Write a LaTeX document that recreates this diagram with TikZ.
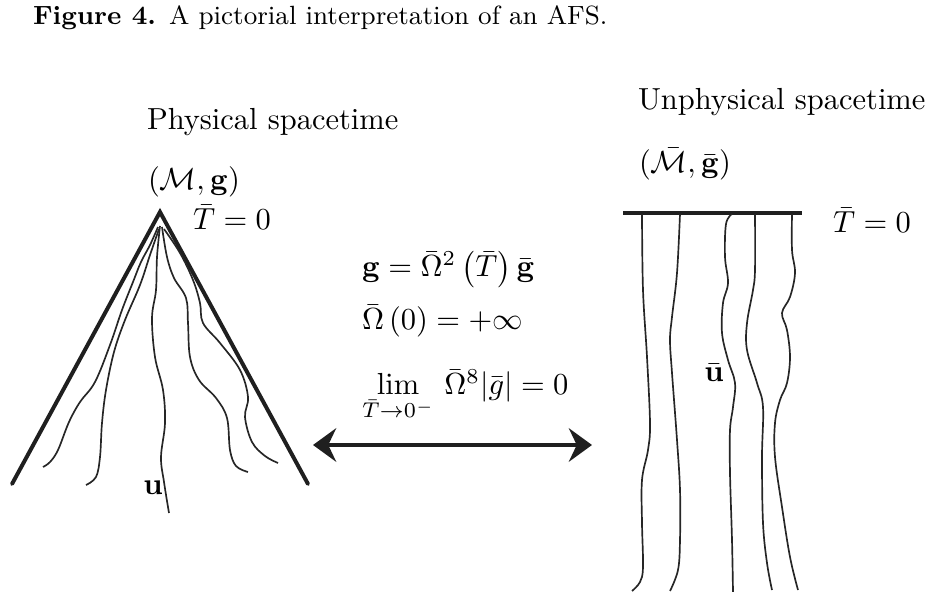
\documentclass[tikz,border=0pt]{standalone}
\usepackage{amsmath}
\usetikzlibrary{arrows.meta}
\begin{document}
\begin{tikzpicture}[x=0.328pt,y=-0.328pt,
  lbl/.style={anchor=base west,inner sep=0pt,outer sep=0pt},
  ctr/.style={inner sep=0pt,outer sep=0pt},
  bold line/.style={line width=1.3pt,line cap=round,draw=black!88},
  flow/.style={line width=0.55pt,draw=black!85},
  bigarrow/.style={line width=1.15pt,draw=black!88,
    {Stealth[length=7.6pt,width=11pt,inset=2.6pt]}-{Stealth[length=7.6pt,width=11pt,inset=2.6pt]}}]
\useasboundingbox (0,0) rectangle (934,592);
% title
\node[lbl] (title) at (33,25) {\fontsize{8.65}{10}\selectfont\textbf{Figure 4.}\hspace{4.3pt}A pictorial interpretation of an AFS.};
% left labels
\node[lbl] (phys) at (147,130) {Physical spacetime};
\node[lbl] (Mg) at (148,190) {$(\mathcal{M},\mathbf{g})$};
\node[lbl] (T0l) at (193,230) {$\bar{T}=0$};
% right labels
\node[lbl] (unphys) at (638,110) {Unphysical spacetime};
\node[lbl] (Mgb) at (639,173) {$(\bar{\mathcal{M}},\bar{\mathbf{g}})$};
\node[lbl] (T0r) at (833,233) {$\bar{T}=0$};
% equations
\node[lbl] (eq1) at (362,277) {$\mathbf{g}=\bar{\Omega}^2\left(\bar{T}\right)\bar{\mathbf{g}}$};
\node[lbl] (eq2) at (362,330) {$\bar{\Omega}\left(0\right)=+\infty$};
\node[lbl] (eq3) at (362,395) {$\lim\limits_{\bar{T}\to 0^-}\,\bar{\Omega}^8|\bar{g}|=0$};
% flow labels
\node[ctr] (u) at (153,488) {$\mathbf{u}$};
\node[ctr] (ub) at (714,373) {$\bar{\mathbf{u}}$};
% cone
\coordinate (apex) at (160,212);
\coordinate (cl) at (12,484);
\coordinate (cr) at (308,484);
\draw[bold line,line join=miter] (cl) -- (apex) -- (cr);
% curves in cone
\draw[flow] plot[smooth,tension=0.6] coordinates {(158,227) (150,245) (141,262) (133,282) (122,310) (110,345) (95,382) (80,402) (69,422) (58,450) (50,462) (43,467)};
\draw[flow] plot[smooth,tension=0.6] coordinates {(159,229) (150,255) (140,285) (125,320) (114,352) (106,390) (102,423) (100,457) (96,477) (86,485)};
\draw[flow] plot[smooth,tension=0.6] coordinates {(160,226) (157,257) (156,290) (152,318) (155,357) (163,390) (165,423) (161,457) (164,482) (169,513)};
\draw[flow] plot[smooth,tension=0.6] coordinates {(162,227) (167,257) (174,278) (186,298) (188,323) (190,357) (199,380) (216,398) (227,418) (230,450) (236,466) (248,472)};
\draw[flow] plot[smooth,tension=0.6] coordinates {(164,229) (180,253) (193,280) (200,303) (203,323) (220,343) (240,370) (248,397) (245,417) (252,442) (265,456) (278,463)};
% right bar
\coordinate (bl) at (623,213);
\coordinate (br) at (802,213);
\draw[bold line,line cap=butt] (bl) -- (br);
% right curves
\draw[flow] plot[smooth,tension=0.6] coordinates {(642,214) (643,290) (647,357) (650,423) (648,450) (642,480) (642,523) (643,567) (640,582) (632,591)};
\draw[flow] plot[smooth,tension=0.6] coordinates {(680,214) (677,273) (672,317) (670,340) (672,373) (677,440) (680,490) (680,540) (678,570) (670,591)};
\draw[flow] plot[smooth,tension=0.6] coordinates {(732,214) (726,224) (725,257) (728,283) (723,303) (722,333) (728,360) (735,383) (733,407) (730,430) (730,473) (732,540) (733,592)};
\draw[flow] plot[smooth,tension=0.6] coordinates {(755,214) (755,270) (753,290) (747,323) (747,350) (757,383) (763,407) (762,457) (763,523) (767,563) (772,590)};
\draw[flow] plot[smooth,tension=0.6] coordinates {(792,214) (792,250) (795,273) (790,297) (782,313) (787,330) (790,357) (787,383) (780,400) (775,423) (775,457) (782,507) (790,557) (798,590)};
% arrow
\coordinate (aL) at (313,445);
\coordinate (aR) at (592,445);
\draw[bigarrow] (aL) -- (aR);
\end{tikzpicture}
\end{document}
